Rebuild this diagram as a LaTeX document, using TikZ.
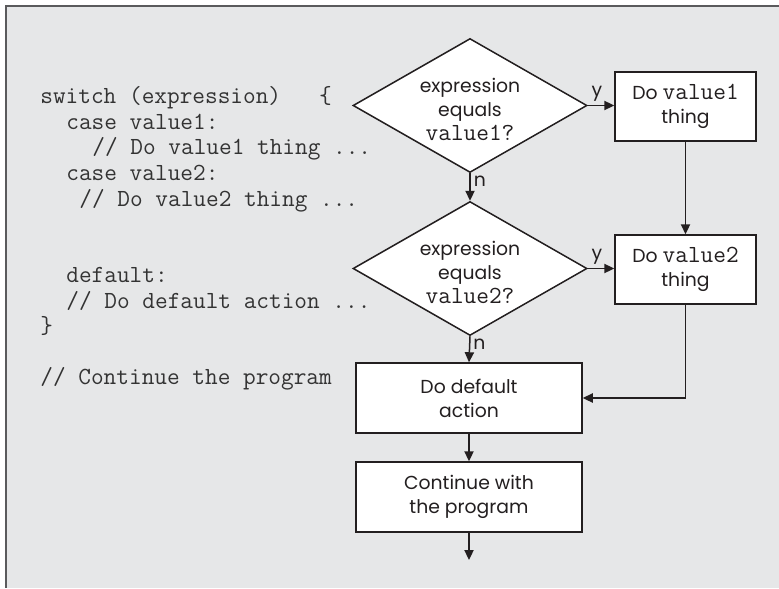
\documentclass[tikz,border=0pt]{standalone}
\usepackage{fontspec}
\setmainfont{Poppins}
\setmonofont{Latin Modern Mono}
\usetikzlibrary{arrows.meta,shapes.geometric}

\definecolor{panel}{HTML}{E6E7E8}
\definecolor{framec}{HTML}{5A5A5C}
\definecolor{ink}{HTML}{231F20}
\definecolor{codec}{HTML}{333333}

\newcommand{\codefont}{\fontsize{12.3pt}{12.75pt}\selectfont\ttfamily}

\tikzset{
  flow/.style={draw=ink, line width=0.75pt, fill=white},
  decision/.style={flow, shape=diamond, inner sep=0pt,
    minimum width=117pt, minimum height=67pt},
  stepbox/.style={flow, rectangle, inner sep=0pt},
  boxtext/.style={text=ink, align=center,
    font=\fontsize{9.4pt}{12pt}\selectfont},
  arr/.style={draw=ink, line width=0.75pt,
    -{Triangle[length=5pt,width=4.6pt]}},
  lbl/.style={text=ink, inner sep=1.5pt,
    font=\fontsize{9.4pt}{11pt}\selectfont},
  codeline/.style={anchor=base west, inner sep=0pt, text=codec,
    font=\codefont}
}

\begin{document}
\begin{tikzpicture}[x=0.5pt,y=-0.5pt]
\useasboundingbox (0,0) rectangle (779,588);
\fill[white] (0,0) rectangle (779,588);

% panel with its top and left border
\fill[panel] (6,6) rectangle (779,588);
\draw[framec, line width=1pt] (779,6) -- (6,6) -- (6,588);

% source code listing
\node[codeline] (c1) at (40,104) {switch (expression)\ \ \ \{};
\node[codeline] (c2) at (66,129.5) {case value1:};
\node[codeline] (c3) at (92,155) {// Do value1 thing ...};
\node[codeline] (c4) at (66,180.5) {case value2:};
\node[codeline] (c5) at (79,206) {// Do value2 thing ...};
\node[codeline] (c6) at (66,282.5) {default:};
\node[codeline] (c7) at (66,308) {// Do default action ...};
\node[codeline] (c8) at (40,333.5) {\}};
\node[codeline] (c9) at (40,384.5) {// Continue the program};

% flowchart
\node[decision] (d1) at (470,105.5) {};
\node[boxtext] (d1t) at (470,109) {expression\\equals\\{\codefont value1?}};
\node[decision] (d2) at (470,268.5) {};
\node[boxtext] (d2t) at (470,272) {expression\\equals\\{\codefont value2?}};

\node[stepbox, minimum width=70.5pt, minimum height=34.5pt] (b1) at (685.5,106.5) {};
\node[boxtext] (b1t) at (685.5,106.5) {Do {\codefont value1}\\thing};
\node[stepbox, minimum width=70.5pt, minimum height=34.5pt] (b2) at (685.5,269.5) {};
\node[boxtext] (b2t) at (685.5,269.5) {Do {\codefont value2}\\thing};

\node[stepbox, minimum width=113pt, minimum height=35pt] (b3) at (469,398) {};
\node[boxtext] (b3t) at (469,398) {Do default\\action};
\node[stepbox, minimum width=113pt, minimum height=35pt] (b4) at (469,497) {};
\node[boxtext] (b4t) at (469,497) {Continue with\\the program};
\coordinate (out) at (469,560);

% connectors
\draw[arr] (d1.south) -- node[lbl, right, pos=0.3] {n} (d2.north);
\draw[arr] (d1.east) -- node[lbl, above, pos=0.35] {y} (d1.east -| b1.west);
\draw[arr] (b1.south) -- (b2.north);
\draw[arr] (d2.east) -- node[lbl, above, pos=0.35] {y} (d2.east -| b2.west);
\draw[arr] (d2.south) -- node[lbl, right, pos=0.3] {n} (b3.north);
\draw[arr] (b2.south) |- (b3.east);
\draw[arr] (b3.south) -- (b4.north);
\draw[arr] (b4.south) -- (out);
\end{tikzpicture}
\end{document}
